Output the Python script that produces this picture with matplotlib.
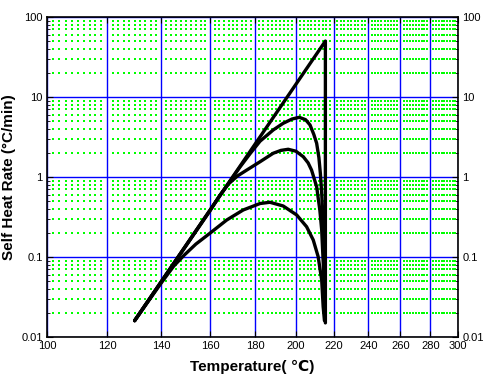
import numpy as np
import matplotlib
matplotlib.use('Agg')
from matplotlib import pyplot as plt
from matplotlib.ticker import FixedLocator, LogLocator, NullFormatter, FixedFormatter

# Arrhenius plot of self heat rate
# straight (zero order) line and its vertical drop
line_temp = [130.0, 215.5, 215.5]
line_rate = [0.016, 50.0, 0.015]

curve_a_temp = [130.0, 165.0, 173.1, 177.7, 182.4, 188.7, 193.6, 198.0, 201.7, 205.0, 207.3,
                209.3, 210.8, 212.0, 212.8, 213.5, 214.3, 215.0, 215.4]
curve_a_rate = [0.016, 0.63, 1.33, 1.95, 2.80, 3.87, 4.69, 5.30, 5.57, 5.20, 4.47,
                3.40, 2.64, 1.75, 1.10, 0.631, 0.266, 0.06, 0.02]

curve_b_temp = [130.0, 160.0, 164.0, 168.0, 172.0, 176.2, 182.4, 188.7, 192.5, 196.1, 200.0,
                203.8, 206.3, 208.1, 210.8, 212.5, 213.5, 214.5, 215.2]
curve_b_rate = [0.016, 0.38, 0.58, 0.82, 1.03, 1.22, 1.55, 1.98, 2.15, 2.22, 2.10,
                1.79, 1.50, 1.22, 0.756, 0.387, 0.218, 0.07, 0.02]

curve_c_temp = [130.0, 140.0, 145.0, 149.0, 154.0, 159.9, 167.2, 174.6, 182.4, 187.1, 193.6,
                200.4, 205.5, 209.0, 211.6, 213.5, 214.3, 215.0]
curve_c_rate = [0.016, 0.047, 0.077, 0.104, 0.145, 0.198, 0.29, 0.387, 0.466, 0.483, 0.434,
                0.335, 0.239, 0.163, 0.101, 0.0516, 0.0239, 0.016]

x_ticks = [100, 120, 140, 160, 180, 200, 220, 240, 260, 280, 300]
y_ticks = [0.01, 0.1, 1, 10, 100]
y_labels = ['0.01', '0.1', '1', '10', '100']


def forward(t):
    return -1.0 / (np.asarray(t, dtype=float) + 273.15)


def inverse(u):
    return -1.0 / np.asarray(u, dtype=float) - 273.15


plt.rcParams['font.family'] = ['Liberation Sans Narrow', 'Liberation Sans', 'DejaVu Sans']

fig = plt.figure(figsize=(4.83, 3.8), dpi=100)
ax = fig.add_axes([0.0973, 0.1132, 0.8509, 0.8421])

ax.set_xscale('function', functions=(forward, inverse))
ax.set_yscale('log')
ax.set_xlim(100, 300)
ax.set_ylim(0.01, 100)

ax.xaxis.set_major_locator(FixedLocator(x_ticks))
ax.set_xticklabels([str(t) for t in x_ticks])
ax.yaxis.set_major_locator(FixedLocator(y_ticks))
ax.yaxis.set_major_formatter(FixedFormatter(y_labels))
ax.yaxis.set_minor_locator(LogLocator(base=10, subs=np.arange(2, 10)))
ax.yaxis.set_minor_formatter(NullFormatter())

# green dotted minor grid: dots where the minor lines cross
minor_t = [t for t in range(102, 300, 2) if t % 20 != 0]
minor_r = [m * 10.0 ** k for k in range(-2, 2) for m in range(2, 10)]
gx, gy = np.meshgrid(minor_t, minor_r)
ax.scatter(gx.ravel(), gy.ravel(), s=0.9, marker='s', color='#00ff00',
           linewidths=0, zorder=1)

ax.grid(which='major', color='#0000ff', linestyle='-', linewidth=1.0, zorder=2)
ax.set_axisbelow(True)

# curves
for tt, rr in [(line_temp, line_rate), (curve_a_temp, curve_a_rate),
               (curve_b_temp, curve_b_rate), (curve_c_temp, curve_c_rate)]:
    ax.plot(tt, rr, color='black', linewidth=2.4, solid_joinstyle='round',
            solid_capstyle='round', zorder=3)

ax.tick_params(which='both', direction='in', top=True, right=True,
               labelright=True, labelsize=8, pad=3)
ax.tick_params(which='major', length=4)
ax.tick_params(which='minor', length=2)
ax.tick_params(axis='x', which='minor', length=0)
for s in ax.spines.values():
    s.set_linewidth(1.2)
    s.set_zorder(4)

ax.set_xlabel('Temperature( \u2103)', fontsize=11, fontweight='bold',
              family=['Liberation Sans', 'DejaVu Sans'], labelpad=6)
ax.set_ylabel('Self Heat Rate (\u00b0C/min)', fontsize=11, fontweight='bold',
              family=['Liberation Sans Narrow', 'Liberation Sans', 'DejaVu Sans'],
              labelpad=4)

plt.savefig('out.png', dpi=100)
